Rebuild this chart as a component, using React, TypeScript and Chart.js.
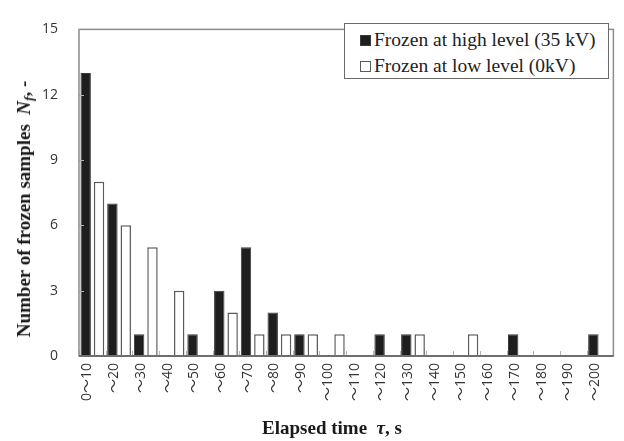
import React, { useEffect, useRef } from "react";
import { Chart, registerables } from "chart.js";

Chart.register(...registerables);

const categories = [
  "0～10", "～20", "～30", "～40", "～50", "～60", "～70", "～80", "～90", "～100",
  "～110", "～120", "～130", "～140", "～150", "～160", "～170", "～180", "～190", "～200",
];
const highLevel = [13, 7, 1, 0, 1, 3, 5, 2, 1, 0, 0, 1, 1, 0, 0, 0, 1, 0, 0, 1];
const lowLevel = [8, 6, 5, 3, 0, 2, 1, 1, 1, 1, 0, 0, 1, 0, 1, 0, 0, 0, 0, 0];
const yMin = 0;
const yMax = 15;
const yStep = 3;
const highLabel = "Frozen at high level (35 kV)";
const lowLabel = "Frozen at low level (0kV)";

const framePlugin = {
  id: "frameAndInnerTicks",
  afterDatasetsDraw(chart: any) {
    const { ctx, chartArea: a, scales } = chart;
    ctx.save();
    // inner ticks on x axis at category boundaries
    ctx.strokeStyle = "#b4b4b4";
    ctx.lineWidth = 1;
    const xs = scales.x;
    for (let i = 0; i <= categories.length; i++) {
      const px = Math.round(xs.getPixelForValue(i - 0.5)) + 0.5;
      ctx.beginPath();
      ctx.moveTo(px, a.bottom);
      ctx.lineTo(px, a.bottom - 5);
      ctx.stroke();
    }
    // inner ticks on y axis
    const ys = scales.y;
    for (let v = yMin; v <= yMax; v += yStep) {
      const py = Math.round(ys.getPixelForValue(v)) + 0.5;
      ctx.beginPath();
      ctx.moveTo(a.left, py);
      ctx.lineTo(a.left + 5, py);
      ctx.stroke();
    }
    // frame
    ctx.strokeStyle = "#8c8c8c";
    ctx.lineWidth = 1.5;
    ctx.strokeRect(a.left, a.top, a.right - a.left, a.bottom - a.top);
    // x axis line
    ctx.strokeStyle = "#6e6e6e";
    ctx.lineWidth = 2;
    ctx.beginPath();
    ctx.moveTo(a.left, a.bottom);
    ctx.lineTo(a.right, a.bottom);
    ctx.stroke();
    ctx.restore();
  },
};

export default function App() {
  const canvasRef = useRef<HTMLCanvasElement | null>(null);

  useEffect(() => {
    document.body.style.margin = "0";
    const canvas = canvasRef.current;
    if (!canvas) return;
    const chart = new Chart(canvas, {
      type: "bar",
      data: {
        labels: categories,
        datasets: [
          {
            label: highLabel,
            data: highLevel,
            backgroundColor: "#1e1e1e",
            borderColor: "#3a3a3a",
            borderWidth: 1,
            categoryPercentage: 1.0,
            barPercentage: 0.78,
          },
          {
            label: lowLabel,
            data: lowLevel,
            backgroundColor: "#ffffff",
            borderColor: "#5a5a5a",
            borderWidth: 1.5,
            categoryPercentage: 1.0,
            barPercentage: 0.78,
          },
        ],
      },
      options: {
        responsive: false,
        animation: false,
        layout: { padding: { top: 15, right: 7, left: 0, bottom: 0 } },
        plugins: {
          legend: { display: false },
          tooltip: { enabled: false },
          title: { display: false },
        },
        scales: {
          x: {
            grid: { display: false, drawTicks: false },
            border: { display: false },
            ticks: {
              autoSkip: false,
              minRotation: 90,
              maxRotation: 90,
              padding: 7,
              labelOffset: -5,
              color: "#333333",
              font: { family: "'Open Sans', 'Noto Sans CJK JP', sans-serif", size: 14 },
            },
            afterFit(scale: any) {
              scale.height = 85;
            },
          },
          y: {
            min: yMin,
            max: yMax,
            grid: { display: false, drawTicks: false },
            border: { display: false },
            ticks: {
              stepSize: yStep,
              padding: 21,
              color: "#333333",
              font: { family: "'Open Sans', sans-serif", size: 14 },
            },
            afterFit(scale: any) {
              scale.width = 79;
            },
          },
        },
      },
      plugins: [framePlugin],
    });
    return () => chart.destroy();
  }, []);

  const serif = "'Liberation Serif', 'DejaVu Serif', serif";

  return (
    <div style={{ position: "relative", width: 624, height: 441, background: "#fff" }}>
      <canvas ref={canvasRef} width={624} height={441} style={{ display: "block" }} />
      <div
        style={{
          position: "absolute",
          left: 24,
          top: 209,
          transform: "translate(-50%, -50%) rotate(-90deg)",
          whiteSpace: "nowrap",
          fontFamily: serif,
          fontWeight: "bold",
          fontSize: 19,
          color: "#1a1a1a",
          lineHeight: "22px",
        }}
      >
        Number of frozen samples{"\u2002"}
        <i>N</i>
        <sub style={{ fontSize: "0.7em", verticalAlign: "-0.25em", lineHeight: 0 }}>
          <i>f</i>
        </sub>
        , -
      </div>
      <div
        style={{
          position: "absolute",
          left: 332,
          top: 428,
          transform: "translate(-50%, -50%)",
          whiteSpace: "nowrap",
          fontFamily: serif,
          fontWeight: "bold",
          fontSize: 19,
          color: "#1a1a1a",
          lineHeight: "22px",
        }}
      >
        Elapsed time{"\u2002"}
        <i>τ</i>, s
      </div>
      <div
        style={{
          position: "absolute",
          left: 344,
          top: 23,
          width: 265,
          height: 56,
          boxSizing: "border-box",
          border: "1.5px solid #6a6a6a",
          background: "#fff",
          fontFamily: serif,
          fontSize: 19.5,
          color: "#222",
        }}
      >
        {[
          { label: highLabel, fill: "#1e1e1e", stroke: "#3a3a3a" },
          { label: lowLabel, fill: "#ffffff", stroke: "#5a5a5a" },
        ].map((item, i) => (
          <div
            key={i}
            style={{
              position: "absolute",
              left: 15,
              top: 3 + i * 26,
              height: 26,
              display: "flex",
              alignItems: "center",
              whiteSpace: "nowrap",
            }}
          >
            <span
              style={{
                display: "inline-block",
                width: 11,
                height: 11,
                boxSizing: "border-box",
                background: item.fill,
                border: `1.2px solid ${item.stroke}`,
                marginRight: 3,
              }}
            />
            <span>{item.label}</span>
          </div>
        ))}
      </div>
    </div>
  );
}
